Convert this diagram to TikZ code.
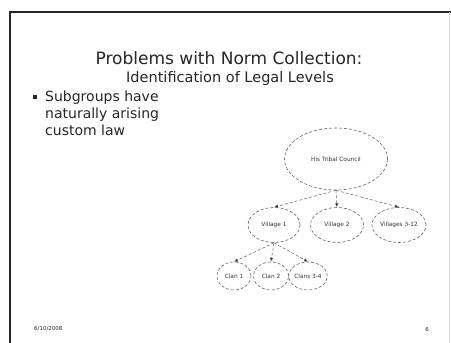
\documentclass[tikz,border=0pt]{standalone}
\usepackage{fontspec}
\setmainfont{DejaVu Sans}
\usetikzlibrary{arrows.meta,shapes.geometric}
\begin{document}
\begin{tikzpicture}[x=1pt,y=-1pt,
  txt/.style={text=black!85, inner sep=0pt},
  ell/.style={ellipse, draw=black!60, densely dashed, line width=0.6pt, inner sep=0pt, font=\fontsize{5.8}{7}\selectfont, text=black!80},
  link/.style={draw=black!60, densely dashed, line width=0.5pt, -{Latex[length=4pt,width=3.5pt,fill=black]}},
  frame/.style={draw=black!85, line width=1.4pt}]
\useasboundingbox (0,0) rectangle (451,343);
\fill[white] (0,0) rectangle (451,343);
\draw[frame] (10,343) -- (10,12) -- (451,12);
\draw[black!15, line width=0.6pt] (449,12) -- (449,343);
% title
\node[txt, font=\fontsize{17}{20}\selectfont] (title) at (229,58) {Problems with Norm Collection:};
\node[txt, font=\fontsize{14.5}{17}\selectfont] (sub) at (230,78) {Identification of Legal Levels};
% bullet
\fill[black!85] (32.5,94.5) rectangle (36.5,98.5);
\node[txt, anchor=west, align=left, font=\fontsize{14}{17}\selectfont] (bul) at (45,113) {Subgroups have\\naturally arising\\custom law};
% tree
\node[ell, minimum width=103pt, minimum height=62pt] (top) at (336,159) {His Tribal Council};
\node[ell, minimum width=52pt, minimum height=35pt] (v1) at (274,225) {Village 1};
\node[ell, minimum width=53pt, minimum height=35pt] (v2) at (337,225) {Village 2};
\node[ell, minimum width=54pt, minimum height=35pt] (v3) at (399,225) {Villages 3-12};
\node[ell, minimum width=34pt, minimum height=28pt] (c1) at (234,276) {Clan 1};
\node[ell, minimum width=35pt, minimum height=28pt] (c2) at (271,276) {Clan 2};
\node[ell, minimum width=34pt, minimum height=28pt] (c3) at (308,276) {Clans 3-4};
\draw[link] (top.south) -- (v1.north);
\draw[link] (top.south) -- (v2.north);
\draw[link] (top.south) -- (v3.north);
\draw[link] (v1.south) -- (c1.north);
\draw[link] (v1.south) -- (c2.north);
\draw[link] (v1.south) -- (c3.north);
% footer
\node[txt, font=\fontsize{5.5}{6}\selectfont, anchor=west] (date) at (34,329) {6/10/2008};
\node[txt, font=\fontsize{5.5}{6}\selectfont] (page) at (427,329) {6};
\end{tikzpicture}
\end{document}
